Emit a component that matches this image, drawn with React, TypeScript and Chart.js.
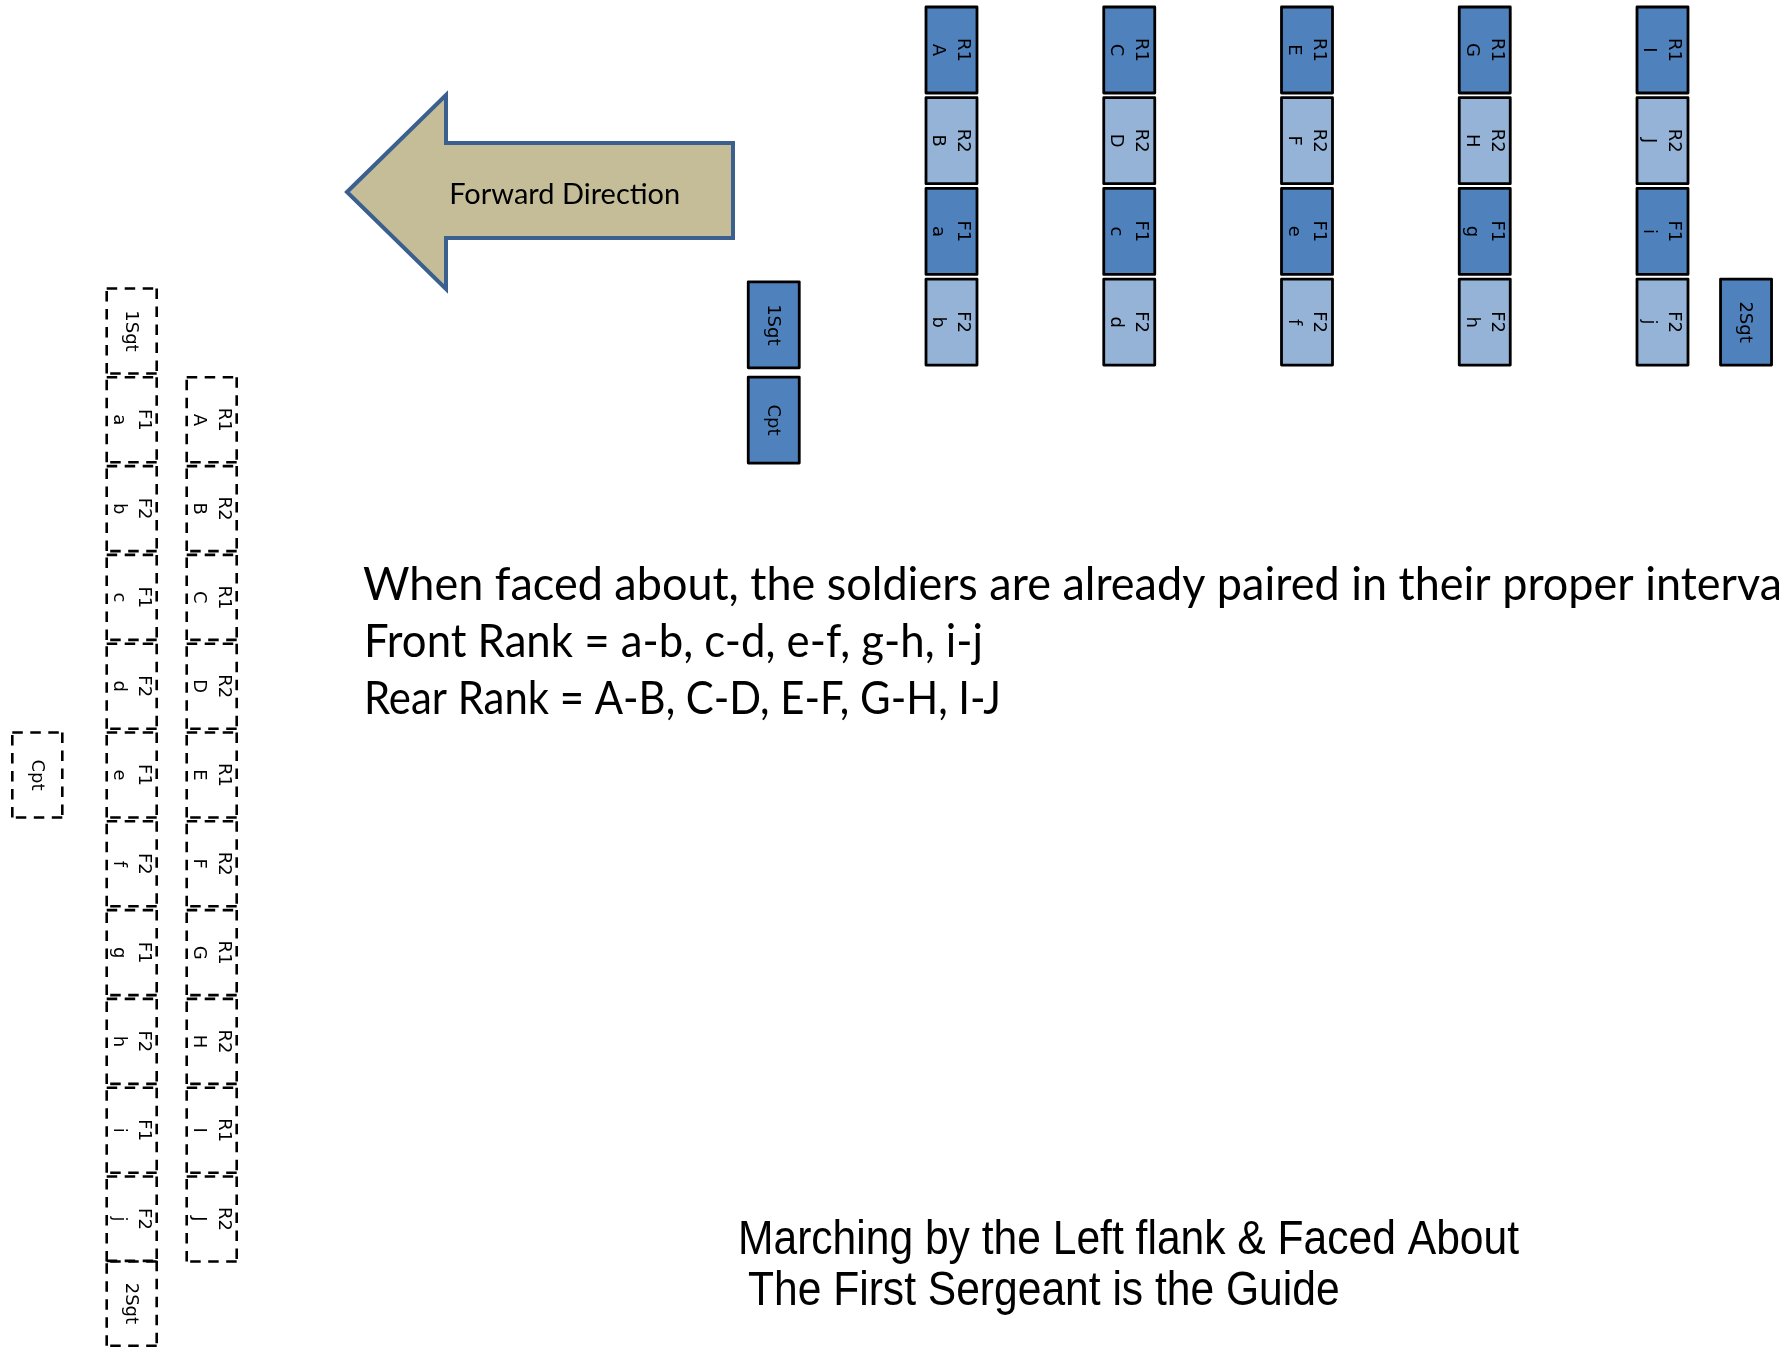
import React, { useEffect, useRef } from 'react';
import { Chart, registerables } from 'chart.js';

Chart.register(...registerables);

// ---------------- data ----------------
// Line formation (top): five files, four ranks each
const rankNames = ['R1', 'R2', 'F1', 'F2'];
const fileIndex = [0, 1, 2, 3, 4];
const rankR1Men = ['A', 'C', 'E', 'G', 'I'];
const rankR2Men = ['B', 'D', 'F', 'H', 'J'];
const rankF1Men = ['a', 'c', 'e', 'g', 'i'];
const rankF2Men = ['b', 'd', 'f', 'h', 'j'];
const rankIndex = [0, 1, 2, 3];

// officers with the line formation (file position, rank position)
const lineOfficerNames = ['1Sgt', 'Cpt', '2Sgt'];
const lineOfficerFile = [-1, -1, 4.47];
const lineOfficerRank = [3.03, 4.08, 3];

// Column formation (left), after marching by the left flank & facing about
const columnFrontMen = ['a', 'b', 'c', 'd', 'e', 'f', 'g', 'h', 'i', 'j'];
const columnFrontRoles = ['F1', 'F2', 'F1', 'F2', 'F1', 'F2', 'F1', 'F2', 'F1', 'F2'];
const columnRearMen = ['A', 'B', 'C', 'D', 'E', 'F', 'G', 'H', 'I', 'J'];
const columnRearRoles = ['R1', 'R2', 'R1', 'R2', 'R1', 'R2', 'R1', 'R2', 'R1', 'R2'];
const columnSlots = [1, 2, 3, 4, 5, 6, 7, 8, 9, 10];
const columnLanes = [0, 1]; // front lane, rear lane
const columnOfficerNames = ['1Sgt', '2Sgt', 'Cpt'];
const columnOfficerLane = [0, 0, -1.18];
const columnOfficerSlot = [0, 10.95, 5];

// texts
const arrowLabel = 'Forward Direction';
const noteLines = [
  'When faced about, the soldiers are already paired in their proper interval',
  'Front Rank = a-b, c-d, e-f, g-h, i-j',
  'Rear Rank = A-B, C-D, E-F, G-H, I-J',
];
const captionLines = ['Marching by the Left flank & Faced About', 'The First Sergeant is the Guide'];

// ---------------- layout / style ----------------
const W = 1779;
const H = 1347;
const TOP_X0 = 951.5, TOP_DX = 177.75, TOP_Y0 = 50, TOP_DY = 90.7;
const LEFT_X0 = 131.7, LEFT_DX = 80, LEFT_Y0 = 331, LEFT_DY = 88.8;
const DARK = '#4F81BD';
const LIGHT = '#95B3D7';
const BOX_FONT = '18px "DejaVu Sans"';
const NOTE_FONT = '46px Lato';
const ARROW_FONT = '29px Lato';
const CAPTION_FONT = '47.5px "Liberation Sans"';
// visible widths of the note lines (first line runs off the right edge)
const NOTE_FIT = [
  { chars: noteLines[0].length - 1, width: 1419 },
  { chars: noteLines[1].length, width: 619 },
  { chars: noteLines[2].length, width: 637 },
];

function shadeFor(role: string) {
  return role.endsWith('1') ? DARK : LIGHT;
}

type BoxPoint = { x: number; y: number; lines: string[]; fill: string | null };

const rankMen = [rankR1Men, rankR2Men, rankF1Men, rankF2Men];
const lineData: BoxPoint[] = [];
rankIndex.forEach((r) => {
  fileIndex.forEach((f, k) => {
    lineData.push({ x: f, y: r, lines: [rankNames[r], rankMen[r][k]], fill: shadeFor(rankNames[r]) });
  });
});
lineOfficerNames.forEach((n, k) => {
  lineData.push({ x: lineOfficerFile[k], y: lineOfficerRank[k], lines: [n], fill: DARK });
});

const columnData: BoxPoint[] = [];
columnSlots.forEach((s, k) => {
  columnData.push({ x: columnLanes[0], y: s, lines: [columnFrontRoles[k], columnFrontMen[k]], fill: null });
  columnData.push({ x: columnLanes[1], y: s, lines: [columnRearRoles[k], columnRearMen[k]], fill: null });
});
columnOfficerNames.forEach((n, k) => {
  columnData.push({ x: columnOfficerLane[k], y: columnOfficerSlot[k], lines: [n], fill: null });
});

// ---------------- drawing helpers ----------------
function drawBoxText(ctx: CanvasRenderingContext2D, cx: number, cy: number, lines: string[]) {
  ctx.save();
  ctx.translate(cx, cy);
  ctx.rotate(Math.PI / 2);
  ctx.font = BOX_FONT;
  ctx.fillStyle = '#000';
  ctx.textAlign = 'center';
  ctx.textBaseline = 'middle';
  const lh = 25;
  const n = lines.length;
  lines.forEach((t, k) => ctx.fillText(t, 0, (k - (n - 1) / 2) * lh + 1));
  ctx.restore();
}

function dashedSide(ctx: CanvasRenderingContext2D, x1: number, y1: number, x2: number, y2: number) {
  ctx.beginPath();
  ctx.moveTo(x1, y1);
  ctx.lineTo(x2, y2);
  ctx.stroke();
}

function drawSolidBox(ctx: CanvasRenderingContext2D, cx: number, cy: number, fill: string) {
  const w = 51, h = 86;
  ctx.save();
  ctx.fillStyle = fill;
  ctx.strokeStyle = '#000';
  ctx.lineWidth = 2.8;
  ctx.lineJoin = 'round';
  ctx.fillRect(cx - w / 2, cy - h / 2, w, h);
  ctx.strokeRect(cx - w / 2, cy - h / 2, w, h);
  ctx.restore();
}

function drawDashedBox(ctx: CanvasRenderingContext2D, cx: number, cy: number) {
  const w = 50, h = 85;
  const l = cx - w / 2, r = cx + w / 2, t = cy - h / 2, b = cy + h / 2;
  ctx.save();
  ctx.strokeStyle = '#000';
  ctx.lineWidth = 2.6;
  ctx.setLineDash([10.5, 7.5]);
  ctx.lineCap = 'butt';
  dashedSide(ctx, l, t, r, t);
  dashedSide(ctx, r, t, r, b);
  dashedSide(ctx, r, b, l, b);
  dashedSide(ctx, l, b, l, t);
  ctx.restore();
}

function fittedText(ctx: CanvasRenderingContext2D, text: string, x: number, y: number, font: string, sx: number) {
  ctx.save();
  ctx.font = font;
  ctx.fillStyle = '#000';
  ctx.textAlign = 'left';
  ctx.textBaseline = 'alphabetic';
  ctx.translate(x, y);
  ctx.scale(sx, 1);
  ctx.fillText(text, 0, 0);
  ctx.restore();
}

function widthOf(ctx: CanvasRenderingContext2D, text: string, font: string) {
  ctx.save();
  ctx.font = font;
  const w = ctx.measureText(text).width;
  ctx.restore();
  return w;
}

const diagramPlugin = {
  id: 'drillDiagram',
  beforeDatasetsDraw(chart: any) {
    const ctx: CanvasRenderingContext2D = chart.ctx;
    // arrow
    ctx.save();
    ctx.beginPath();
    ctx.moveTo(347, 192);
    ctx.lineTo(446, 95);
    ctx.lineTo(446, 143);
    ctx.lineTo(733, 143);
    ctx.lineTo(733, 238);
    ctx.lineTo(446, 238);
    ctx.lineTo(446, 289);
    ctx.closePath();
    ctx.fillStyle = '#C4BD97';
    ctx.fill();
    ctx.lineWidth = 4;
    ctx.lineJoin = 'miter';
    ctx.strokeStyle = '#3B5F8E';
    ctx.stroke();
    ctx.restore();

    const aw = widthOf(ctx, arrowLabel, ARROW_FONT);
    const asx = 231 / aw;
    fittedText(ctx, arrowLabel, 564.7 - 115.5, 204, ARROW_FONT, asx);

    // note block
    const noteX = [363, 364, 364];
    const noteY = [600, 657, 714];
    noteLines.forEach((t, k) => {
      const fit = NOTE_FIT[k];
      const sx = fit.width / widthOf(ctx, t.slice(0, fit.chars), NOTE_FONT);
      fittedText(ctx, t, noteX[k], noteY[k], NOTE_FONT, sx);
    });

    // caption
    const csx = 781 / widthOf(ctx, captionLines[0], CAPTION_FONT);
    fittedText(ctx, captionLines[0], 738, 1254, CAPTION_FONT, csx);
    fittedText(ctx, captionLines[1], 748, 1305, CAPTION_FONT, csx);
  },
  afterDatasetsDraw(chart: any) {
    const ctx: CanvasRenderingContext2D = chart.ctx;
    chart.data.datasets.forEach((ds: any, i: number) => {
      const meta = chart.getDatasetMeta(i);
      meta.data.forEach((el: any, j: number) => {
        const raw = ds.data[j] as BoxPoint;
        if (ds.boxKind === 'dashed') drawDashedBox(ctx, el.x, el.y);
        else drawSolidBox(ctx, el.x, el.y, raw.fill || DARK);
        drawBoxText(ctx, el.x, el.y, raw.lines);
      });
    });
  },
};

export default function App() {
  const ref = useRef<HTMLCanvasElement>(null);
  useEffect(() => {
    const canvas = ref.current;
    if (!canvas) return;
    const chart = new Chart(canvas, {
      type: 'scatter',
      data: {
        datasets: [
          {
            label: 'Line formation',
            data: lineData as any,
            xAxisID: 'xTop',
            yAxisID: 'yTop',
            pointRadius: 0,
            pointHoverRadius: 0,
            boxKind: 'solid',
          } as any,
          {
            label: 'Column formation',
            data: columnData as any,
            xAxisID: 'xLeft',
            yAxisID: 'yLeft',
            pointRadius: 0,
            pointHoverRadius: 0,
            boxKind: 'dashed',
          } as any,
        ],
      },
      options: {
        animation: false,
        responsive: false,
        devicePixelRatio: 1,
        events: [],
        layout: { padding: 0 },
        plugins: { legend: { display: false }, tooltip: { enabled: false }, title: { display: false } },
        scales: {
          xTop: { type: 'linear', display: false, min: -TOP_X0 / TOP_DX, max: (W - TOP_X0) / TOP_DX },
          yTop: { type: 'linear', display: false, reverse: true, min: -TOP_Y0 / TOP_DY, max: (H - TOP_Y0) / TOP_DY },
          xLeft: { type: 'linear', display: false, min: -LEFT_X0 / LEFT_DX, max: (W - LEFT_X0) / LEFT_DX },
          yLeft: { type: 'linear', display: false, reverse: true, min: -LEFT_Y0 / LEFT_DY, max: (H - LEFT_Y0) / LEFT_DY },
        },
      },
      plugins: [diagramPlugin],
    });
    let alive = true;
    const fonts = [BOX_FONT, NOTE_FONT, ARROW_FONT, CAPTION_FONT];
    Promise.all(fonts.map((f) => document.fonts.load(f)))
      .then(() => {
        if (alive) chart.draw();
      })
      .catch(() => {});
    return () => {
      alive = false;
      chart.destroy();
    };
  }, []);
  return (
    <div style={{ position: 'fixed', left: 0, top: 0, width: W, height: H, background: '#fff', overflow: 'hidden' }}>
      <canvas ref={ref} width={W} height={H} style={{ display: 'block', width: W, height: H }} />
    </div>
  );
}
